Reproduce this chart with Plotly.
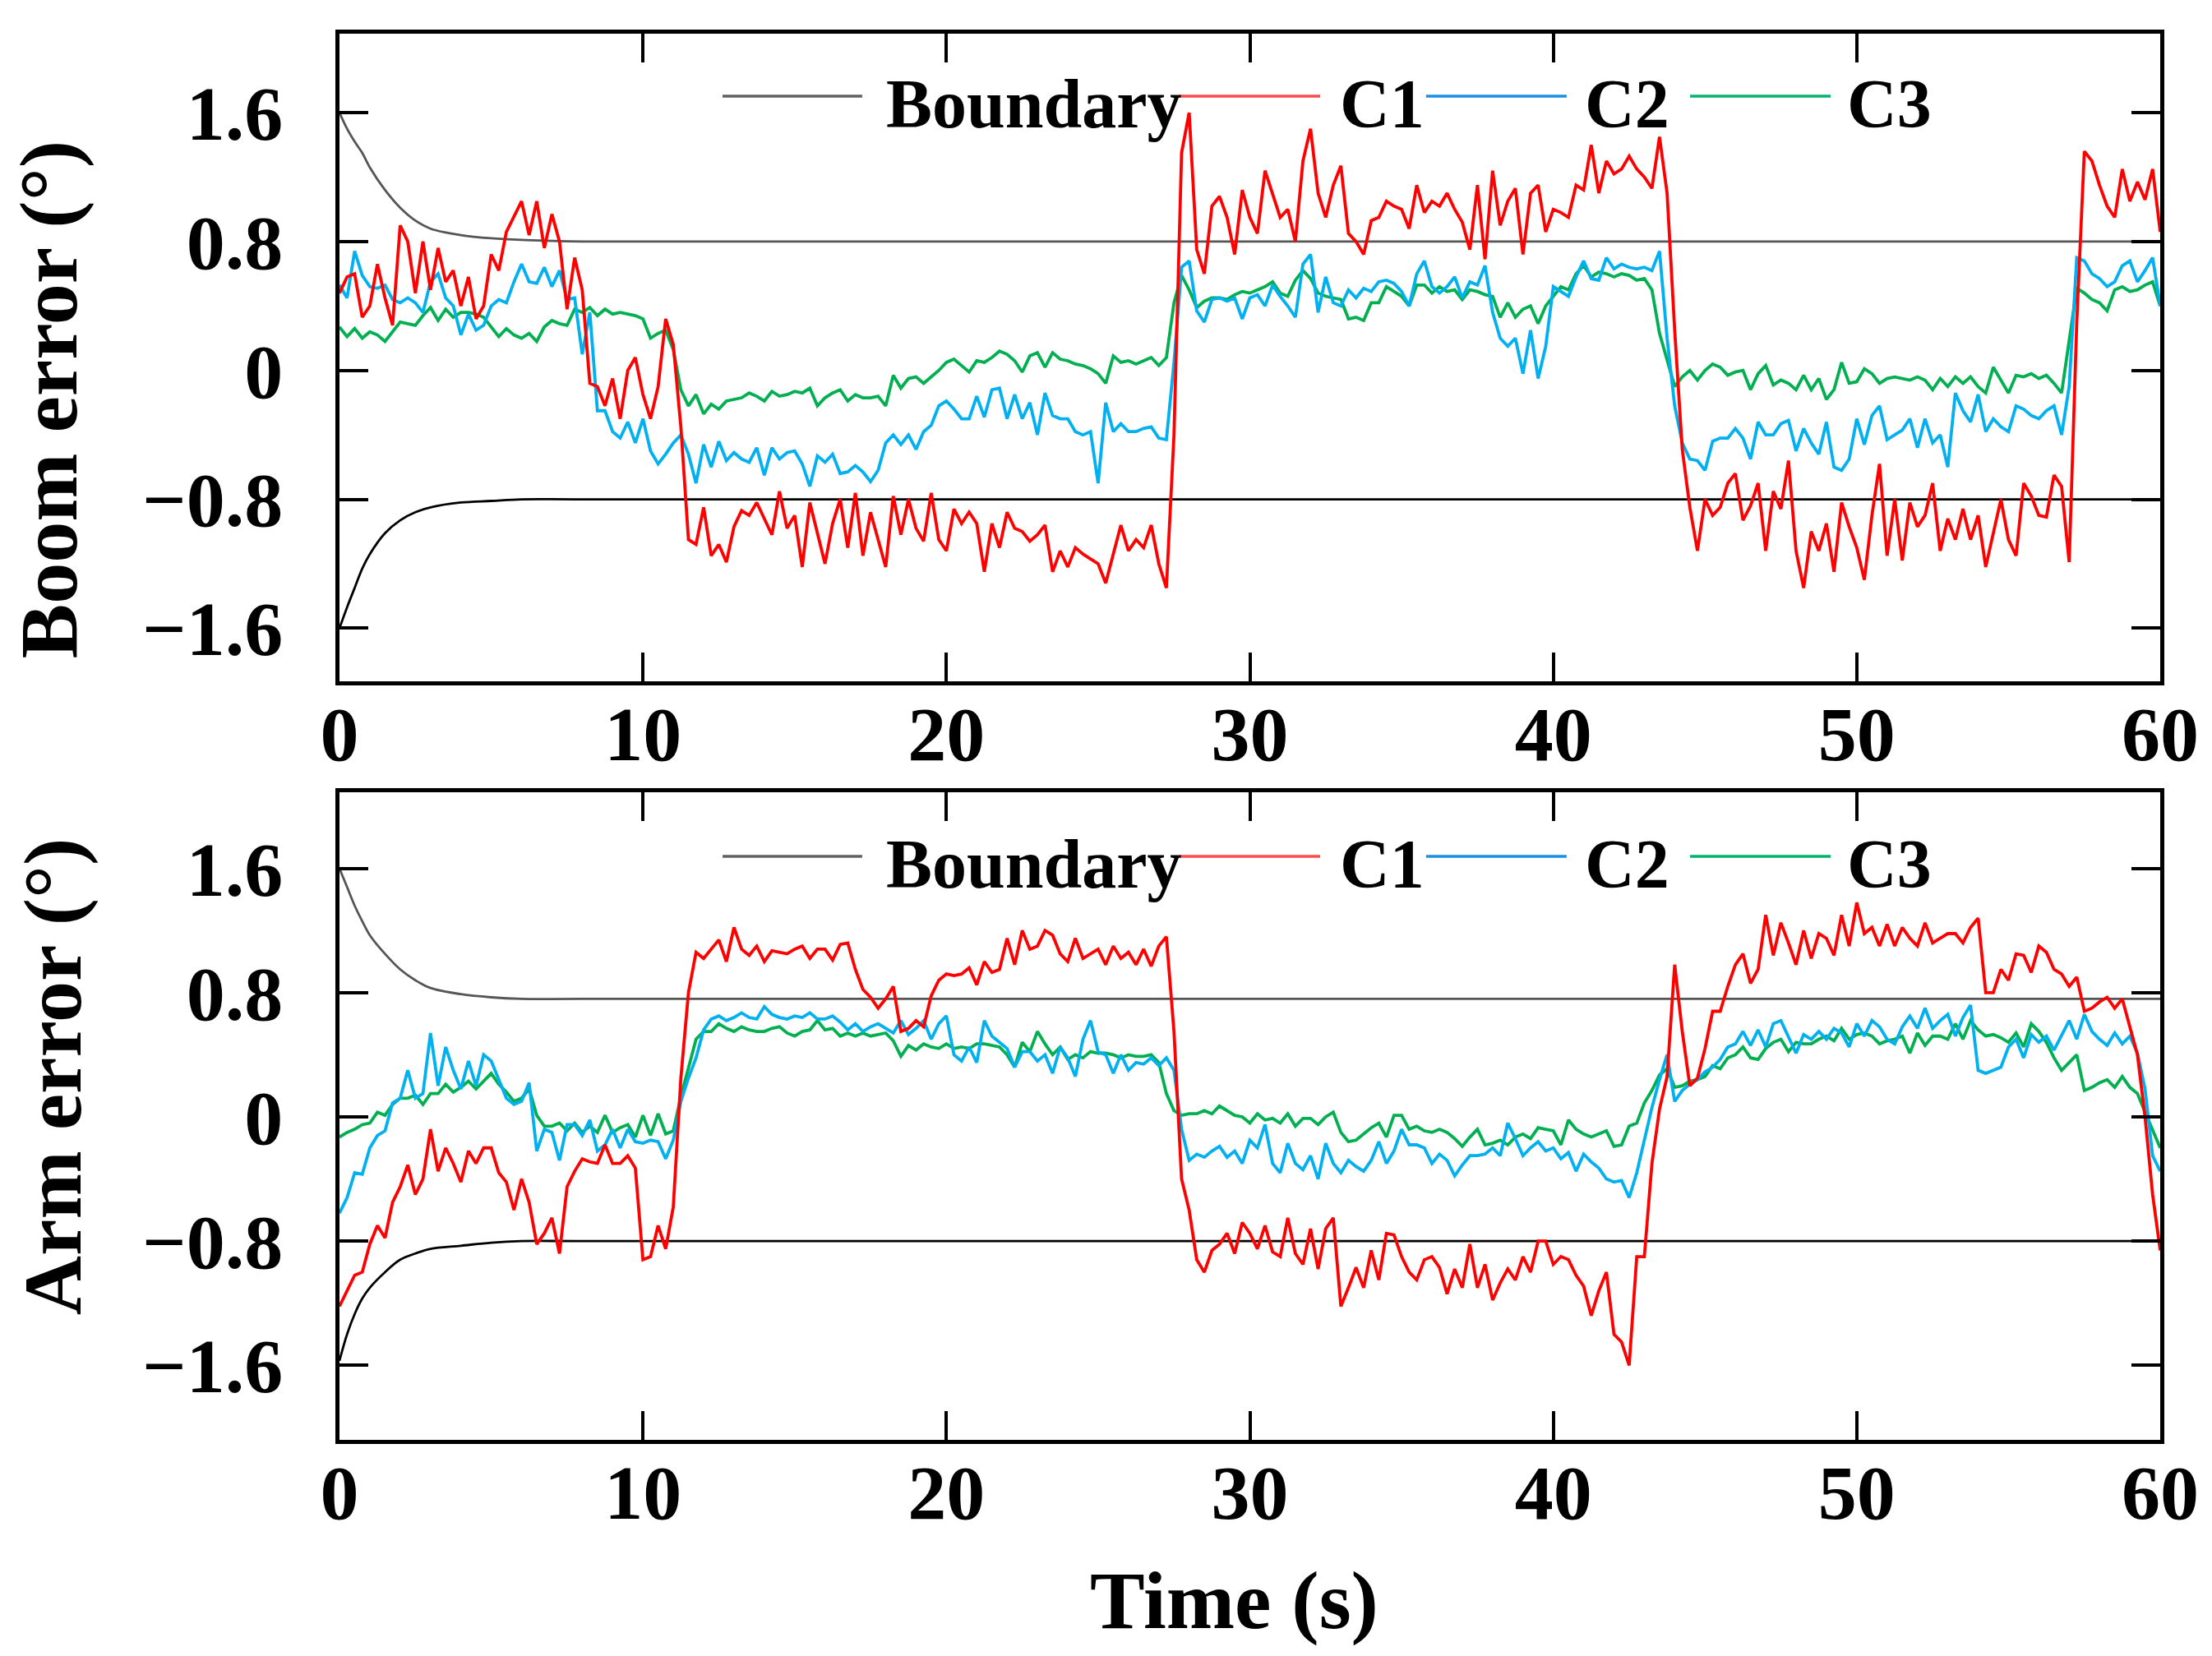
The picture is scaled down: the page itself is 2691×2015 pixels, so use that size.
import plotly.graph_objects as go

# ---------------- data ----------------
TIME = [k * 0.25 for k in range(241)]  # 0 .. 60 s

BOUND_T = [0, 0.25, 0.5, 0.75, 1, 1.5, 2, 2.5, 3, 4, 5, 6, 8, 60]
BOOM_UPPER = [1.60, 1.50, 1.42, 1.35, 1.26, 1.12, 1.01, 0.93, 0.88, 0.84, 0.82, 0.81, 0.80, 0.80]
BOOM_LOWER = [-1.60, -1.47, -1.35, -1.23, -1.14, -1.01, -0.93, -0.88, -0.85, -0.82, -0.81, -0.80, -0.80, -0.80]
ARM_UPPER = [1.60, 1.48, 1.36, 1.26, 1.17, 1.05, 0.95, 0.88, 0.83, 0.79, 0.77, 0.76, 0.76, 0.76]
ARM_LOWER = [-1.57, -1.40, -1.27, -1.17, -1.10, -1.00, -0.92, -0.88, -0.85, -0.83, -0.81, -0.80, -0.80, -0.80]

BOOM_C1 = [
    0.48, 0.58, 0.60, 0.33, 0.40, 0.66, 0.45, 0.28, 0.90, 0.80, 0.48, 0.80,
    0.50, 0.76, 0.55, 0.62, 0.40, 0.58, 0.32, 0.40, 0.72, 0.62, 0.86, 0.95,
    1.05, 0.84, 1.05, 0.76, 0.97, 0.80, 0.38, 0.70, 0.50, -0.08, -0.10, -0.22,
    -0.05, -0.30, 0.00, 0.08, -0.15, -0.30, -0.10, 0.32, 0.16, -0.35, -1.05, -1.08,
    -0.85, -1.15, -1.08, -1.19, -0.97, -0.87, -0.90, -0.82, -0.92, -1.02, -0.75, -0.98,
    -0.90, -1.22, -0.82, -1.02, -1.20, -0.95, -0.80, -1.10, -0.76, -1.15, -0.88, -1.05,
    -1.22, -0.78, -1.02, -0.80, -0.98, -1.06, -0.76, -1.05, -1.12, -0.86, -0.95, -0.88,
    -0.95, -1.25, -0.95, -1.10, -0.88, -0.98, -1.00, -1.06, -1.02, -0.96, -1.25, -1.12,
    -1.22, -1.10, -1.14, -1.17, -1.20, -1.32, -1.14, -0.96, -1.12, -1.05, -1.10, -0.96,
    -1.20, -1.35, -0.40, 1.35, 1.60, 0.75, 0.60, 1.02, 1.08, 0.95, 0.72, 1.12,
    0.95, 0.85, 1.24, 1.10, 0.95, 1.00, 0.80, 1.30, 1.50, 1.10, 0.95, 1.15,
    1.27, 0.85, 0.80, 0.72, 0.93, 0.95, 1.05, 1.02, 1.00, 0.88, 1.15, 0.98,
    1.05, 1.02, 1.10, 1.00, 0.92, 0.75, 1.15, 0.69, 1.24, 0.90, 1.05, 1.13,
    0.72, 1.10, 1.15, 0.86, 1.00, 0.98, 0.95, 1.15, 1.12, 1.40, 1.10, 1.30,
    1.22, 1.25, 1.33, 1.25, 1.20, 1.13, 1.45, 1.10, 0.25, -0.49, -0.85, -1.12,
    -0.80, -0.90, -0.85, -0.70, -0.64, -0.93, -0.84, -0.70, -1.12, -0.75, -0.86, -0.56,
    -1.12, -1.35, -1.00, -1.12, -0.95, -1.25, -0.82, -0.97, -1.10, -1.30, -0.90, -0.58,
    -1.15, -0.80, -1.18, -0.82, -0.97, -0.90, -0.70, -1.12, -0.92, -1.05, -0.86, -1.05,
    -0.90, -1.22, -1.02, -0.80, -1.05, -1.15, -0.70, -0.78, -0.90, -0.91, -0.65, -0.72,
    -1.19, 0.30, 1.36, 1.30, 1.15, 1.02, 0.95, 1.25, 1.05, 1.17, 1.06, 1.25,
    0.86,
]

BOOM_C2 = [
    0.53, 0.45, 0.74, 0.59, 0.52, 0.51, 0.53, 0.44, 0.42, 0.45, 0.42, 0.36,
    0.55, 0.60, 0.45, 0.40, 0.22, 0.35, 0.25, 0.28, 0.40, 0.44, 0.42, 0.55,
    0.66, 0.55, 0.54, 0.64, 0.52, 0.62, 0.44, 0.45, 0.10, 0.36, -0.25, -0.25,
    -0.38, -0.42, -0.32, -0.45, -0.30, -0.50, -0.58, -0.52, -0.45, -0.40, -0.52, -0.70,
    -0.46, -0.60, -0.44, -0.56, -0.51, -0.55, -0.57, -0.48, -0.65, -0.48, -0.55, -0.51,
    -0.50, -0.58, -0.72, -0.53, -0.57, -0.52, -0.64, -0.63, -0.59, -0.63, -0.69, -0.62,
    -0.45, -0.40, -0.46, -0.40, -0.49, -0.38, -0.34, -0.22, -0.19, -0.24, -0.30, -0.30,
    -0.16, -0.29, -0.12, -0.11, -0.30, -0.15, -0.30, -0.20, -0.40, -0.14, -0.28, -0.30,
    -0.30, -0.38, -0.40, -0.38, -0.70, -0.20, -0.38, -0.33, -0.38, -0.38, -0.36, -0.35,
    -0.42, -0.43, 0.05, 0.64, 0.68, 0.37, 0.30, 0.44, 0.45, 0.43, 0.45, 0.32,
    0.45, 0.47, 0.40, 0.53, 0.46, 0.40, 0.33, 0.66, 0.72, 0.36, 0.58, 0.42,
    0.40, 0.50, 0.45, 0.51, 0.49, 0.55, 0.56, 0.54, 0.49, 0.40, 0.60, 0.68,
    0.52, 0.48, 0.52, 0.58, 0.45, 0.55, 0.53, 0.65, 0.36, 0.20, 0.15, 0.20,
    -0.02, 0.25, -0.05, 0.15, 0.52, 0.49, 0.46, 0.58, 0.68, 0.57, 0.56, 0.70,
    0.63, 0.66, 0.64, 0.63, 0.64, 0.62, 0.74, 0.20, -0.22, -0.45, -0.55, -0.56,
    -0.62, -0.44, -0.42, -0.42, -0.36, -0.42, -0.55, -0.32, -0.40, -0.40, -0.33, -0.31,
    -0.50, -0.36, -0.45, -0.52, -0.32, -0.60, -0.62, -0.55, -0.30, -0.46, -0.28, -0.22,
    -0.43, -0.40, -0.37, -0.30, -0.48, -0.30, -0.45, -0.40, -0.60, -0.14, -0.25, -0.32,
    -0.15, -0.38, -0.30, -0.35, -0.38, -0.22, -0.24, -0.28, -0.30, -0.25, -0.22, -0.40,
    -0.10, 0.70, 0.68, 0.60, 0.57, 0.52, 0.55, 0.65, 0.68, 0.55, 0.62, 0.70,
    0.40,
]

BOOM_C3 = [
    0.27, 0.21, 0.26, 0.20, 0.24, 0.22, 0.18, 0.24, 0.30, 0.29, 0.28, 0.34,
    0.39, 0.31, 0.38, 0.33, 0.36, 0.36, 0.35, 0.33, 0.27, 0.21, 0.26, 0.22,
    0.20, 0.23, 0.18, 0.27, 0.31, 0.29, 0.28, 0.38, 0.36, 0.39, 0.34, 0.38,
    0.35, 0.36, 0.35, 0.34, 0.32, 0.20, 0.23, 0.25, 0.13, -0.12, -0.22, -0.15,
    -0.27, -0.21, -0.24, -0.19, -0.18, -0.17, -0.14, -0.16, -0.19, -0.13, -0.16, -0.15,
    -0.13, -0.14, -0.11, -0.22, -0.17, -0.14, -0.12, -0.19, -0.15, -0.17, -0.17, -0.16,
    -0.22, -0.03, -0.11, -0.05, -0.04, -0.08, -0.04, 0.00, 0.05, 0.07, 0.03, -0.01,
    0.06, 0.05, 0.08, 0.12, 0.10, 0.06, -0.01, 0.09, 0.11, 0.02, 0.11, 0.07,
    0.06, 0.04, 0.03, 0.01, -0.02, -0.08, 0.09, 0.05, 0.06, 0.04, 0.06, 0.08,
    0.03, 0.08, 0.42, 0.59, 0.50, 0.39, 0.43, 0.45, 0.45, 0.44, 0.47, 0.49,
    0.48, 0.50, 0.52, 0.55, 0.48, 0.46, 0.56, 0.62, 0.57, 0.48, 0.46, 0.45,
    0.44, 0.32, 0.33, 0.31, 0.42, 0.42, 0.52, 0.49, 0.46, 0.40, 0.53, 0.53,
    0.48, 0.52, 0.49, 0.50, 0.44, 0.50, 0.49, 0.47, 0.46, 0.33, 0.42, 0.33,
    0.38, 0.40, 0.29, 0.40, 0.46, 0.52, 0.50, 0.60, 0.65, 0.58, 0.61, 0.60,
    0.58, 0.60, 0.59, 0.56, 0.57, 0.50, 0.23, 0.06, -0.10, -0.04, 0.00, -0.06,
    0.00, 0.04, 0.02, -0.03, -0.01, 0.00, -0.12, -0.02, 0.03, -0.09, -0.06, -0.08,
    -0.12, -0.03, -0.12, -0.05, -0.18, -0.12, 0.05, -0.08, -0.07, 0.01, -0.02, -0.08,
    -0.05, -0.04, -0.05, -0.06, -0.04, -0.06, -0.12, -0.05, -0.10, -0.04, -0.08, -0.04,
    -0.10, -0.14, 0.02, -0.06, -0.14, -0.03, -0.04, -0.02, -0.05, -0.03, -0.08, -0.14,
    0.20, 0.51, 0.48, 0.44, 0.42, 0.37, 0.50, 0.52, 0.49, 0.50, 0.53, 0.55,
    0.40,
]

ARM_C1 = [
    -1.22, -1.12, -1.02, -1.00, -0.82, -0.70, -0.78, -0.55, -0.45, -0.31, -0.50, -0.40,
    -0.08, -0.35, -0.20, -0.30, -0.42, -0.22, -0.30, -0.20, -0.20, -0.36, -0.42, -0.60,
    -0.40, -0.55, -0.82, -0.75, -0.65, -0.88, -0.45, -0.35, -0.27, -0.29, -0.30, -0.18,
    -0.30, -0.30, -0.25, -0.33, -0.92, -0.90, -0.70, -0.85, -0.58, 0.25, 0.80, 1.06,
    1.02, 1.08, 1.14, 1.00, 1.22, 1.08, 1.04, 1.10, 1.00, 1.07, 1.06, 1.05,
    1.08, 1.10, 1.02, 1.08, 1.08, 1.01, 1.11, 1.12, 0.95, 0.82, 0.77, 0.70,
    0.76, 0.84, 0.55, 0.57, 0.62, 0.58, 0.78, 0.88, 0.92, 0.91, 0.92, 0.96,
    0.85, 1.00, 0.93, 0.95, 1.15, 0.98, 1.20, 1.08, 1.10, 1.20, 1.17, 1.05,
    1.00, 1.15, 1.02, 1.05, 1.08, 0.98, 1.10, 1.02, 1.06, 0.98, 1.08, 0.97,
    1.10, 1.16, 0.55, -0.40, -0.60, -0.92, -1.00, -0.86, -0.82, -0.75, -0.88, -0.68,
    -0.75, -0.85, -0.70, -0.87, -0.90, -0.65, -0.88, -0.95, -0.72, -0.98, -0.72, -0.65,
    -1.22, -1.10, -0.97, -1.10, -0.86, -1.05, -0.75, -0.76, -0.90, -1.00, -1.05, -0.92,
    -0.90, -0.97, -1.14, -0.98, -1.10, -0.82, -1.10, -0.95, -1.18, -1.07, -0.98, -1.05,
    -0.90, -1.00, -0.80, -0.80, -0.95, -0.90, -0.92, -1.02, -1.09, -1.28, -1.12, -1.00,
    -1.40, -1.45, -1.60, -0.90, -0.90, -0.30, 0.05, 0.26, 0.98, 0.55, 0.20, 0.25,
    0.44, 0.68, 0.68, 0.84, 0.98, 1.05, 0.86, 0.95, 1.30, 1.04, 1.25, 1.12,
    0.98, 1.20, 1.02, 1.18, 1.15, 1.04, 1.30, 1.10, 1.38, 1.18, 1.22, 1.10,
    1.24, 1.10, 1.22, 1.15, 1.10, 1.25, 1.12, 1.15, 1.18, 1.18, 1.12, 1.22,
    1.28, 0.80, 0.80, 0.95, 0.88, 1.05, 1.04, 0.93, 1.10, 1.06, 0.95, 0.92,
    0.84, 0.90, 0.68, 0.70, 0.74, 0.77, 0.70, 0.76, 0.58, 0.40, 0.00, -0.50,
    -0.86,
]

ARM_C2 = [
    -0.62, -0.52, -0.36, -0.37, -0.20, -0.12, -0.09, 0.09, 0.12, 0.30, 0.12, 0.15,
    0.54, 0.20, 0.45, 0.30, 0.18, 0.36, 0.20, 0.40, 0.36, 0.24, 0.12, 0.08,
    0.10, 0.22, -0.22, -0.08, -0.10, -0.28, -0.05, -0.05, -0.12, -0.02, -0.22, -0.18,
    -0.08, -0.20, -0.08, -0.16, -0.17, -0.15, -0.16, -0.27, -0.15, 0.10, 0.25, 0.38,
    0.56, 0.63, 0.65, 0.62, 0.64, 0.67, 0.64, 0.63, 0.71, 0.66, 0.64, 0.63,
    0.65, 0.64, 0.67, 0.63, 0.63, 0.65, 0.61, 0.56, 0.60, 0.55, 0.58, 0.60,
    0.57, 0.54, 0.62, 0.53, 0.57, 0.62, 0.50, 0.60, 0.65, 0.40, 0.36, 0.45,
    0.35, 0.62, 0.52, 0.48, 0.44, 0.32, 0.42, 0.42, 0.36, 0.40, 0.28, 0.45,
    0.38, 0.26, 0.50, 0.62, 0.42, 0.40, 0.28, 0.40, 0.30, 0.35, 0.34, 0.38,
    0.33, 0.38, 0.30, -0.08, -0.28, -0.24, -0.26, -0.22, -0.19, -0.26, -0.22, -0.30,
    -0.15, -0.20, -0.05, -0.30, -0.36, -0.17, -0.30, -0.34, -0.25, -0.40, -0.17, -0.30,
    -0.36, -0.28, -0.32, -0.35, -0.28, -0.16, -0.30, -0.22, -0.08, -0.18, -0.18, -0.20,
    -0.30, -0.24, -0.28, -0.38, -0.31, -0.25, -0.25, -0.24, -0.20, -0.25, -0.04, -0.14,
    -0.25, -0.20, -0.16, -0.22, -0.20, -0.27, -0.23, -0.35, -0.24, -0.29, -0.33, -0.40,
    -0.42, -0.41, -0.52, -0.36, -0.15, 0.06, 0.24, 0.40, 0.10, 0.17, 0.21, 0.24,
    0.29, 0.32, 0.37, 0.45, 0.47, 0.55, 0.46, 0.56, 0.45, 0.60, 0.62, 0.52,
    0.41, 0.53, 0.50, 0.55, 0.50, 0.57, 0.54, 0.45, 0.60, 0.52, 0.62, 0.58,
    0.50, 0.47, 0.58, 0.65, 0.57, 0.70, 0.57, 0.62, 0.66, 0.52, 0.64, 0.72,
    0.30, 0.28, 0.30, 0.32, 0.45, 0.50, 0.38, 0.53, 0.48, 0.52, 0.43, 0.52,
    0.62, 0.50, 0.66, 0.55, 0.50, 0.46, 0.54, 0.47, 0.52, 0.41, 0.18, -0.25,
    -0.35,
]

ARM_C3 = [
    -0.13, -0.10, -0.08, -0.05, -0.04, 0.03, 0.01, 0.08, 0.12, 0.12, 0.14, 0.08,
    0.15, 0.15, 0.21, 0.16, 0.19, 0.23, 0.18, 0.23, 0.28, 0.21, 0.16, 0.10,
    0.12, 0.18, 0.01, -0.06, -0.06, -0.04, -0.09, -0.04, -0.10, -0.06, -0.10, 0.01,
    -0.10, -0.07, -0.05, -0.13, 0.01, -0.12, 0.02, -0.11, -0.09, 0.13, 0.32, 0.50,
    0.55, 0.55, 0.60, 0.57, 0.55, 0.58, 0.56, 0.55, 0.55, 0.57, 0.58, 0.54,
    0.52, 0.55, 0.56, 0.62, 0.56, 0.57, 0.52, 0.54, 0.52, 0.54, 0.52, 0.53,
    0.54, 0.49, 0.39, 0.46, 0.43, 0.47, 0.45, 0.44, 0.47, 0.44, 0.45, 0.44,
    0.47, 0.47, 0.46, 0.45, 0.40, 0.32, 0.48, 0.42, 0.55, 0.47, 0.40, 0.45,
    0.37, 0.40, 0.38, 0.42, 0.41, 0.41, 0.40, 0.38, 0.40, 0.39, 0.39, 0.40,
    0.35, 0.15, 0.04, 0.01, 0.02, 0.02, 0.04, 0.02, 0.07, 0.04, 0.01, 0.00,
    -0.04, 0.02, -0.02, -0.01, -0.04, 0.02, -0.06, -0.01, -0.01, -0.05, 0.00, 0.03,
    -0.10, -0.16, -0.15, -0.11, -0.07, -0.04, -0.13, 0.01, 0.01, -0.08, -0.06, -0.09,
    -0.10, -0.08, -0.10, -0.14, -0.19, -0.13, -0.08, -0.18, -0.17, -0.15, -0.18, -0.13,
    -0.11, -0.14, -0.07, -0.08, -0.09, -0.18, -0.02, -0.08, -0.11, -0.13, -0.11, -0.09,
    -0.19, -0.18, -0.06, -0.04, 0.09, 0.17, 0.27, 0.31, 0.19, 0.20, 0.23, 0.24,
    0.26, 0.33, 0.31, 0.38, 0.40, 0.45, 0.38, 0.37, 0.44, 0.48, 0.50, 0.42,
    0.48, 0.47, 0.47, 0.50, 0.52, 0.49, 0.57, 0.50, 0.53, 0.54, 0.52, 0.47,
    0.49, 0.50, 0.52, 0.41, 0.54, 0.46, 0.52, 0.52, 0.50, 0.60, 0.50, 0.62,
    0.56, 0.52, 0.53, 0.51, 0.48, 0.54, 0.45, 0.60, 0.55, 0.48, 0.38, 0.30,
    0.35, 0.40, 0.17, 0.19, 0.22, 0.24, 0.19, 0.26, 0.19, 0.15, 0.03, -0.08,
    -0.20,
]

for name, arr in [("BOOM_C1", BOOM_C1), ("BOOM_C2", BOOM_C2), ("BOOM_C3", BOOM_C3),
                  ("ARM_C1", ARM_C1), ("ARM_C2", ARM_C2), ("ARM_C3", ARM_C3)]:
    if len(arr) != len(TIME):
        raise ValueError(f"{name} has {len(arr)} values, expected {len(TIME)}")

X_TICKS = [0, 10, 20, 30, 40, 50, 60]
Y_TICKS = [-1.6, -0.8, 0, 0.8, 1.6]
Y_TICK_TEXT = ["\u22121.6", "\u22120.8", "0", "0.8", "1.6"]
LEGEND_NAMES = ["Boundary", "C1", "C2", "C3"]

# ---------------- styling ----------------
RED = "#FF0000"
BLUE = "#00B0F0"
GREEN = "#00B050"
GRAY = "#555555"
FONT = "Liberation Serif"

fig = go.Figure()

def add_panel(xa, ya, upper, lower, c1, c2, c3):
    fig.add_trace(go.Scatter(x=BOUND_T, y=upper, mode="lines", line=dict(color=GRAY, width=2.8, shape="spline"),
                             xaxis=xa, yaxis=ya, showlegend=False, hoverinfo="skip"))
    fig.add_trace(go.Scatter(x=BOUND_T, y=lower, mode="lines", line=dict(color="#000000", width=2.8, shape="spline"),
                             xaxis=xa, yaxis=ya, showlegend=False, hoverinfo="skip"))
    fig.add_trace(go.Scatter(x=TIME, y=c3, mode="lines", line=dict(color=GREEN, width=3.8),
                             xaxis=xa, yaxis=ya, showlegend=False))
    fig.add_trace(go.Scatter(x=TIME, y=c2, mode="lines", line=dict(color=BLUE, width=3.8),
                             xaxis=xa, yaxis=ya, showlegend=False))
    fig.add_trace(go.Scatter(x=TIME, y=c1, mode="lines", line=dict(color=RED, width=3.8),
                             xaxis=xa, yaxis=ya, showlegend=False))

add_panel("x", "y", BOOM_UPPER, BOOM_LOWER, BOOM_C1, BOOM_C2, BOOM_C3)
add_panel("x2", "y2", ARM_UPPER, ARM_LOWER, ARM_C1, ARM_C2, ARM_C3)

tickfont = dict(family=FONT, size=94, color="black", weight="bold")
common_x = dict(range=[0, 60], tickvals=X_TICKS, ticks="inside", ticklen=35, tickwidth=4,
                tickcolor="black", showline=True, linewidth=5, linecolor="black", mirror="ticks",
                showgrid=False, zeroline=False, tickfont=tickfont, ticklabelstandoff=-22)
common_y = dict(tickvals=Y_TICKS, ticktext=Y_TICK_TEXT, ticks="inside", ticklen=35, tickwidth=4,
                tickcolor="black", showline=True, linewidth=5, linecolor="black", mirror="ticks",
                showgrid=False, zeroline=False, tickfont=tickfont, ticklabelstandoff=45)

fig.update_layout(
    width=2691, height=2015,
    margin=dict(l=413, r=63, t=41, b=263),
    paper_bgcolor="white", plot_bgcolor="white",
    xaxis=dict(domain=[0, 1], anchor="y", **common_x),
    yaxis=dict(domain=[0.5394, 1.0], anchor="x", range=[-1.93, 2.09], **common_y),
    xaxis2=dict(domain=[0, 1], anchor="y2", **common_x),
    yaxis2=dict(domain=[0, 0.4605], anchor="x2", range=[-2.08, 2.09], **common_y),
    showlegend=False,
)

# ---------------- custom legends (long line samples as in the reference) ----------------
legend_line_x = [(0.2104, 0.2871), (0.4614, 0.5386), (0.5968, 0.6740), (0.7418, 0.8190)]
legend_text_x = [0.2993, 0.5485, 0.6831, 0.8271]
legend_colors = ["#606060", "#FF4B4B", "#1A8FE3", "#00B36B"]
legend_rows = [(0.9556, 0.9500), (0.4150, 0.4095)]  # (line y, text y) for each panel

for line_y, text_y in legend_rows:
    for (x0, x1), tx, col, name in zip(legend_line_x, legend_text_x, legend_colors, LEGEND_NAMES):
        fig.add_shape(type="line", xref="paper", yref="paper", x0=x0, x1=x1, y0=line_y, y1=line_y,
                      line=dict(color=col, width=3.5))
        fig.add_annotation(xref="paper", yref="paper", x=tx, y=text_y, text=name, showarrow=False,
                           xanchor="left", yanchor="middle",
                           font=dict(family=FONT, size=84, color="black", weight="bold"))

# ---------------- axis titles ----------------
title_font = dict(family=FONT, size=100, color="black", weight="bold")
fig.add_annotation(xref="paper", yref="paper", x=-0.1595, y=0.740, text="Boom error (\u00b0)",
                   textangle=-90, showarrow=False, xanchor="center", yanchor="middle", font=title_font)
fig.add_annotation(xref="paper", yref="paper", x=-0.1575, y=0.2583, text="Arm error (\u00b0)",
                   textangle=-90, showarrow=False, xanchor="center", yanchor="middle", font=title_font)
fig.add_annotation(xref="paper", yref="paper", x=0.4916, y=-0.1140, text="Time (s)",
                   showarrow=False, xanchor="center", yanchor="middle", font=title_font)

fig.write_html("out.html", config={"displayModeBar": False},
               post_script="document.body.style.margin='0px';document.body.style.overflow='hidden';")
